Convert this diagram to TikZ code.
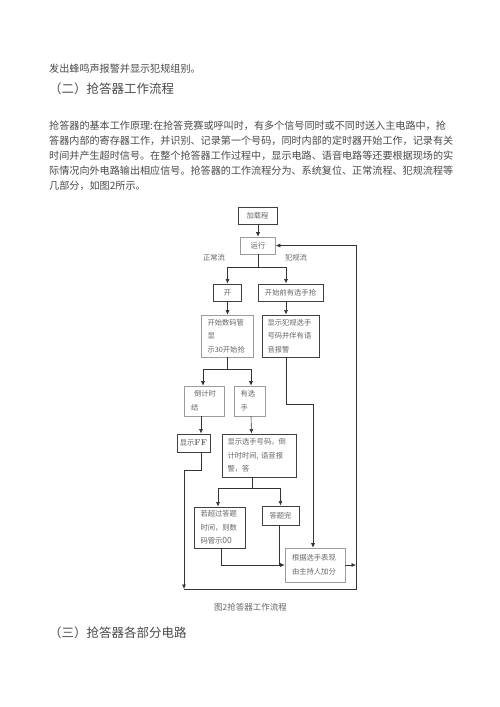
\documentclass[tikz,border=0pt]{standalone}
\usepackage{fontspec}
\usepackage{tikz}
\usepackage{xcolor}
\usetikzlibrary{arrows.meta}
\newfontfamily\cjk{Noto Sans CJK SC}
\definecolor{bodytext}{HTML}{4A4A4A}
\definecolor{flowtext}{HTML}{666666}
\definecolor{edgedark}{HTML}{404040}
\definecolor{edgelight}{HTML}{9C9C9C}
\definecolor{wirecol}{HTML}{333333}
\tikzset{
  bodyline/.style={anchor=west, inner sep=0pt, text=bodytext,
                   font=\cjk\fontsize{10.1}{12}\selectfont},
  headline/.style={anchor=west, inner sep=0pt, text=bodytext,
                   font=\cjk\fontsize{12.5}{15}\selectfont},
  flowbox/.style={draw=edgedark, line width=0.9pt, inner sep=0pt,
                  text=flowtext, align=left,
                  font=\cjk\fontsize{7.3}{13.7}\selectfont},
  lightbox/.style={flowbox, draw=edgelight, line width=0.6pt},
  boxsize/.style n args={3}{minimum width=#1, minimum height=#2, text width=#3},
  flowlabel/.style={inner sep=0pt, text=flowtext,
                    font=\cjk\fontsize{7.3}{9}\selectfont},
  wire/.style={draw=wirecol, line width=0.6pt},
  arrow/.style={wire, -{Latex[length=4.5pt, width=4pt]}}
}

\begin{document}
\begin{tikzpicture}[x=1pt, y=-1pt]
\useasboundingbox[fill=white] (0,0) rectangle (500,707);

% text of the page
\node[bodyline] (top) at (49,69) {发出蜂鸣声报警并显示犯规组别。};
\node[headline] (h2) at (49,89) {（二）抢答器工作流程};
\node[bodyline] (p1) at (49,126) {抢答器的基本工作原理:在抢答竞赛或呼叫时，有多个信号同时或不同时送入主电路中，抢};
\node[bodyline] (p2) at (49,141) {答器内部的寄存器工作，并识别、记录第一个号码，同时内部的定时器开始工作，记录有关};
\node[bodyline] (p3) at (49,156) {时间并产生超时信号。在整个抢答器工作过程中，显示电路、语音电路等还要根据现场的实};
\node[bodyline] (p4) at (49,171) {际情况向外电路输出相应信号。抢答器的工作流程分为、系统复位、正常流程、犯规流程等};
\node[bodyline] (p5) at (49,186) {几部分，如图2所示。};

% boxes
\node[flowbox, boxsize={39pt}{17pt}{39pt}, align=center] (load) at (257.5,215.5) {加载程};
\node[lightbox, boxsize={35pt}{17pt}{35pt}, align=center] (run) at (258,245.5) {运行};
\node[flowlabel] (normal) at (214,258) {正常流};
\node[flowlabel] (foul) at (296,258) {犯规流};
\node[flowbox, boxsize={28pt}{17.5pt}{28pt}, align=center] (kai) at (227.5,292.7) {开};
\node[flowbox, boxsize={65pt}{17.5pt}{65pt}, align=center] (qian) at (290.5,292.7) {开始前有选手抢};
\node[lightbox, boxsize={52pt}{42pt}{40pt}] (shu) at (227.5,336) {开始数码管\\显\\示30开始抢};
\node[flowbox, boxsize={57pt}{42pt}{46pt}] (fan) at (290.5,336) {显示犯规选手\\号码并伴有语\\音报警};
\node[lightbox, boxsize={40pt}{30pt}{26pt}] (dao) at (204,401) {\hspace{3pt}倒计时\\结};
\node[lightbox, boxsize={31pt}{30pt}{18pt}] (you) at (249.5,401) {有选\\手};
\node[flowbox, boxsize={33pt}{18pt}{33pt}, align=center] (ff) at (193.5,443) {显示{\normalfont\bfseries\fontsize{8.5}{10}\selectfont FF}};
\node[flowbox, boxsize={74pt}{43pt}{63pt}] (xian) at (259,455.5) {显示选手号码，倒\\计时时间, 语音报\\警，答};
\node[flowbox, boxsize={51pt}{41pt}{38pt}] (chao) at (219.5,527.5) {若超过答题\\时间，则数\\码管示{\fontsize{8.5}{13.7}\selectfont 00}};
\node[flowbox, boxsize={37pt}{19pt}{37pt}, align=center] (wan) at (280.5,515.5) {答题完};
\node[lightbox, boxsize={60pt}{34pt}{46pt}] (jia) at (315,565) {根据选手表现\\由主持人加分};
\node[flowlabel, font=\cjk\fontsize{8.5}{10}\selectfont] (cap) at (250.5,607) {图2抢答器工作流程};
\node[headline] (h3) at (49,633) {（三）抢答器各部分电路};

% junctions
\coordinate (s1) at (258,267);
\coordinate (s2) at (227.5,369);
\coordinate (s3) at (252,488);
\coordinate (s4) at (279,565);
\coordinate (s5) at (313,404);
\coordinate (s6) at (184,470);
\coordinate (bl) at (184,589);
\coordinate (br) at (356,589);
\coordinate (jr) at (356,565);

% connectors
\draw[arrow] (load.south -| run.north) -- (run.north);
\draw[wire] (run.south) -- (s1);
\draw[arrow] (s1) -| (kai.north);
\draw[arrow] (s1) -| ([xshift=-4.5pt]qian.north);
\draw[arrow] (kai.south) -- (shu.north);
\draw[arrow] ([xshift=-4.5pt]qian.south) -- ([xshift=-4.5pt]fan.north);
\draw[wire] (shu.south) -- (s2);
\draw[arrow] (s2) -| ([xshift=-1pt]dao.north);
\draw[arrow] (s2) -| ([xshift=1.5pt]you.north);
\draw[arrow] ([xshift=-3pt]dao.south) -- ([xshift=7.5pt]ff.north);
\draw[arrow] ([xshift=1.5pt]you.south) -- ([xshift=-7.5pt]xian.north);
\draw[wire] (xian.south -| s3) -- (s3);
\draw[arrow] (s3) -| ([xshift=-1.5pt]chao.north);
\draw[arrow] (s3) -| (wan.north);
\draw[arrow] ([xshift=1.5pt]chao.south) |- (jia.west);
\draw[wire] (wan.south -| s4) -- (s4);
\draw[wire] ([xshift=-4.5pt]fan.south) |- (s5);
\draw[arrow] (s5) -- (s5 |- jia.north);
\draw[wire] ([xshift=7.5pt]ff.south) |- (s6);
\draw[arrow] (s6) -- (bl);
\draw[arrow] (jia.east) -- (jr);
\draw[arrow] (bl) -- (br) |- (run.east);
\end{tikzpicture}
\end{document}
